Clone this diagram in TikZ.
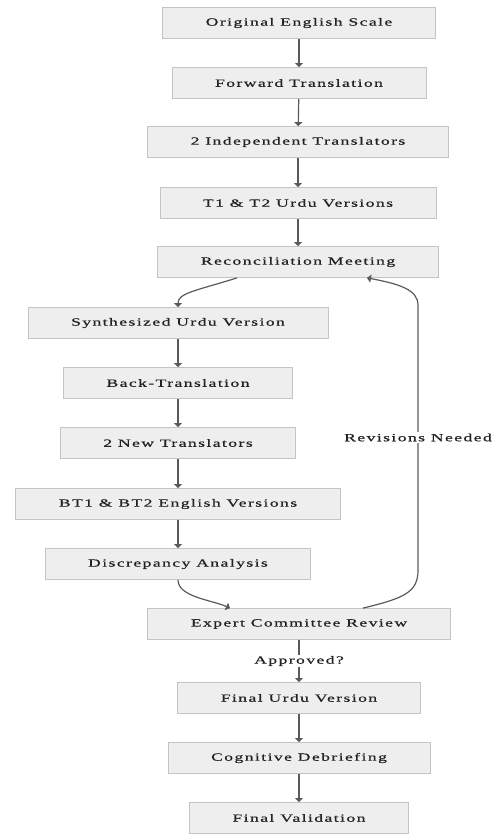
\documentclass[tikz,border=0pt]{standalone}
\usepackage{fontspec}
\setmainfont{Liberation Serif}
\newfontfamily\chartfont[FakeStretch=1.6,LetterSpace=13,FakeBold=0.6]{Liberation Serif}
\usetikzlibrary{arrows.meta}

\definecolor{boxfill}{HTML}{EEEEEE}
\definecolor{boxline}{HTML}{C4C4C4}
\definecolor{arrowline}{HTML}{5A5A5A}
\definecolor{textgray}{HTML}{222222}

\begin{document}
\begin{tikzpicture}[x=1pt, y=-1pt,
  box/.style={draw=boxline, fill=boxfill, line width=0.8pt, minimum height=31pt,
    inner xsep=43pt, text=textgray, font=\chartfont\fontsize{11}{13}\selectfont},
  arr/.style={draw=arrowline, line width=1.2pt, -{Triangle[length=4pt,width=8pt]}},
  lbl/.style={fill=white, text=textgray, inner sep=1.5pt,
    font=\chartfont\fontsize{11}{13}\selectfont}]

  \useasboundingbox (0,0) rectangle (496,835);

  % Forward translation steps
  \node[box] (orig)   at (299,23)  {Original English Scale};
  \node[box] (fwd)    at (299,83)  {Forward Translation};
  \node[box] (indep)  at (298,142) {2 Independent Translators};
  \node[box] (tvers)  at (298,203) {T1 \& T2 Urdu Versions};
  \node[box] (recon)  at (298,262) {Reconciliation Meeting};

  % Back-translation steps
  \node[box] (synth)  at (178,323) {Synthesized Urdu Version};
  \node[box] (back)   at (178,383) {Back-Translation};
  \node[box] (newtr)  at (178,443) {2 New Translators};
  \node[box] (btvers) at (178,504) {BT1 \& BT2 English Versions};
  \node[box] (disc)   at (178,564) {Discrepancy Analysis};

  % Review and final steps
  \node[box] (expert) at (299,624) {Expert Committee Review};
  \node[box] (final)  at (299,698) {Final Urdu Version};
  \node[box] (cog)    at (299,758) {Cognitive Debriefing};
  \node[box] (valid)  at (299,818) {Final Validation};

  % Straight arrows
  \draw[arr] (orig) -- (fwd);
  \draw[arr] (fwd) -- (indep);
  \draw[arr] (indep) -- (tvers);
  \draw[arr] (tvers) -- (recon);
  \draw[arr] (synth) -- (back);
  \draw[arr] (back) -- (newtr);
  \draw[arr] (newtr) -- (btvers);
  \draw[arr] (btvers) -- (disc);
  \draw[arr] (final) -- (cog);
  \draw[arr] (cog) -- (valid);

  % Curved arrows
  \draw[arr] ([xshift=-61pt]recon.south) .. controls (195,291) and (178,293) .. (synth.north);
  \draw[arr] (disc.south) .. controls (178,597) and (212,600) .. ([xshift=-69pt]expert.north);
  \draw[arr] ([xshift=64pt]expert.north) .. controls (405,598) and (418,592) .. (418,570)
    -- node[lbl] {Revisions Needed} (418,305)
    .. controls (418,290) and (400,284) .. ([xshift=69pt]recon.south);

  % Approval
  \draw[arr] (expert) -- node[lbl] {Approved?} (final);

\end{tikzpicture}
\end{document}
